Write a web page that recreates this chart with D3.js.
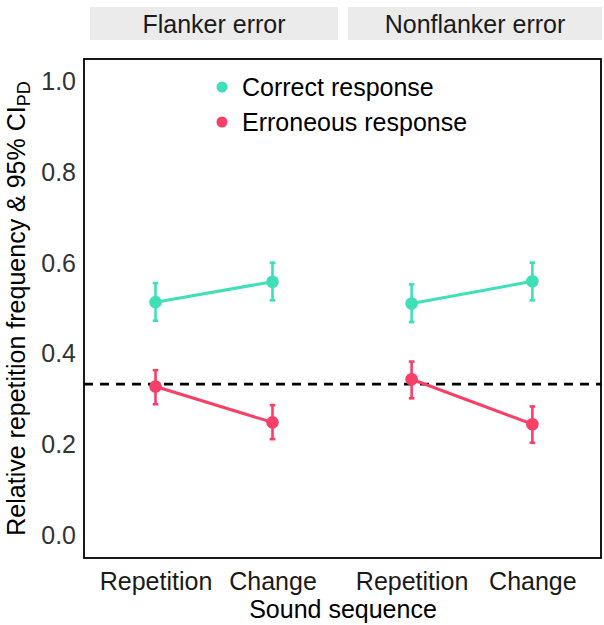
<!DOCTYPE html>
<html><head><meta charset="utf-8">
<script src="https://cdn.jsdelivr.net/npm/d3@7"></script>
<style>body{margin:0;background:#fff}svg{display:block;font-family:"Liberation Sans",Arial,sans-serif}</style>
</head><body><svg id="c" width="604" height="625"></svg>
<script>
const facets = ["Flanker error", "Nonflanker error"];
const sequences = ["Repetition", "Change"];
const responses = ["Correct response", "Erroneous response"];
const colors = ["#3fe0b8", "#f83f68"];
// values per facet, per sequence
const correctMean  = [[0.514, 0.559], [0.511, 0.560]];
const correctLow   = [[0.473, 0.518], [0.470, 0.518]];
const correctHigh  = [[0.556, 0.601], [0.553, 0.601]];
const errorMean    = [[0.328, 0.249], [0.344, 0.245]];
const errorLow     = [[0.289, 0.212], [0.302, 0.204]];
const errorHigh    = [[0.364, 0.287], [0.383, 0.284]];
const chance = 1/3;
const yTicks = [0, 0.2, 0.4, 0.6, 0.8, 1.0];

const svg = d3.select("#c");
const box = {l:84, r:601, t:59, b:558};
const panels = [{x0:90, x1:338}, {x0:344, x1:600}];
const strips = [{x0:90, x1:338}, {x0:348, x1:602}];
const y = d3.scaleLinear().domain([-0.05, 1.05]).range([box.b, box.t]);
const FS = 25;

// strips
facets.forEach((f,i)=>{
  svg.append("rect").attr("x",strips[i].x0).attr("y",7).attr("width",strips[i].x1-strips[i].x0).attr("height",33).attr("fill","#ebebeb");
  svg.append("text").attr("x",(strips[i].x0+strips[i].x1)/2).attr("y",24).attr("dy","0.35em")
    .attr("text-anchor","middle").attr("font-size",FS).attr("fill","#1a1a1a").text(f);
});

// y axis labels
const yAxis = d3.axisLeft(y).tickValues(yTicks).tickFormat(d3.format(".1f")).tickSize(0).tickPadding(8);
const ga = svg.append("g").attr("transform",`translate(${box.l},0)`).call(yAxis);
ga.select(".domain").remove();
ga.selectAll("text").attr("font-size",FS).attr("fill","#333").attr("font-family","Liberation Sans, Arial, sans-serif");

// dashed chance line
svg.append("line").attr("x1",box.l).attr("x2",box.r).attr("y1",y(chance)).attr("y2",y(chance))
  .attr("stroke","#000").attr("stroke-width",2.6).attr("stroke-dasharray","9,7");

const series = [
  {mean:correctMean, low:correctLow, high:correctHigh, color:colors[0]},
  {mean:errorMean, low:errorLow, high:errorHigh, color:colors[1]}
];

facets.forEach((f,fi)=>{
  const x = d3.scalePoint().domain(sequences).range([panels[fi].x0, panels[fi].x1]).padding(0.56);
  const gx = svg.append("g").attr("transform",`translate(0,${box.b})`)
    .call(d3.axisBottom(x).tickSize(0).tickPadding(14));
  gx.select(".domain").remove();
  gx.selectAll("text").attr("font-size",FS).attr("fill","#1a1a1a").attr("font-family","Liberation Sans, Arial, sans-serif");
  series.forEach(s=>{
    const pts = sequences.map((q,qi)=>({x:x(q), m:s.mean[fi][qi], lo:s.low[fi][qi], hi:s.high[fi][qi]}));
    svg.append("path").datum(pts).attr("fill","none").attr("stroke",s.color).attr("stroke-width",3)
      .attr("d", d3.line().x(d=>d.x).y(d=>y(d.m)));
    pts.forEach(p=>{
      svg.append("line").attr("x1",p.x).attr("x2",p.x).attr("y1",y(p.lo)).attr("y2",y(p.hi)).attr("stroke",s.color).attr("stroke-width",2.6);
      [p.lo,p.hi].forEach(v=>svg.append("line").attr("x1",p.x-2.8).attr("x2",p.x+2.8).attr("y1",y(v)).attr("y2",y(v)).attr("stroke",s.color).attr("stroke-width",2.6));
      svg.append("circle").attr("cx",p.x).attr("cy",y(p.m)).attr("r",6.3).attr("fill",s.color);
    });
  });
});

// box
svg.append("rect").attr("x",box.l).attr("y",box.t).attr("width",box.r-box.l).attr("height",box.b-box.t)
  .attr("fill","none").attr("stroke","#000").attr("stroke-width",1.8);

// legend
responses.forEach((r,i)=>{
  const ly = 87 + i*35;
  svg.append("circle").attr("cx",222).attr("cy",ly).attr("r",5.5).attr("fill",colors[i]);
  svg.append("text").attr("x",242).attr("y",ly).attr("dy","0.35em").attr("font-size",FS).attr("fill","#000").text(r);
});

// axis titles
svg.append("text").attr("x",343).attr("y",609).attr("dy","0.35em").attr("text-anchor","middle").attr("font-size",FS).attr("fill","#000").text("Sound sequence");
const yt = svg.append("text").attr("transform",`translate(16,${(box.t+box.b)/2}) rotate(-90)`).attr("dy","0.35em")
  .attr("text-anchor","middle").attr("font-size",FS).attr("fill","#000");
yt.append("tspan").text("Relative repetition frequency & 95% CI");
yt.append("tspan").attr("font-size",FS*0.72).attr("dy","0.3em").text("PD");
</script></body></html>
